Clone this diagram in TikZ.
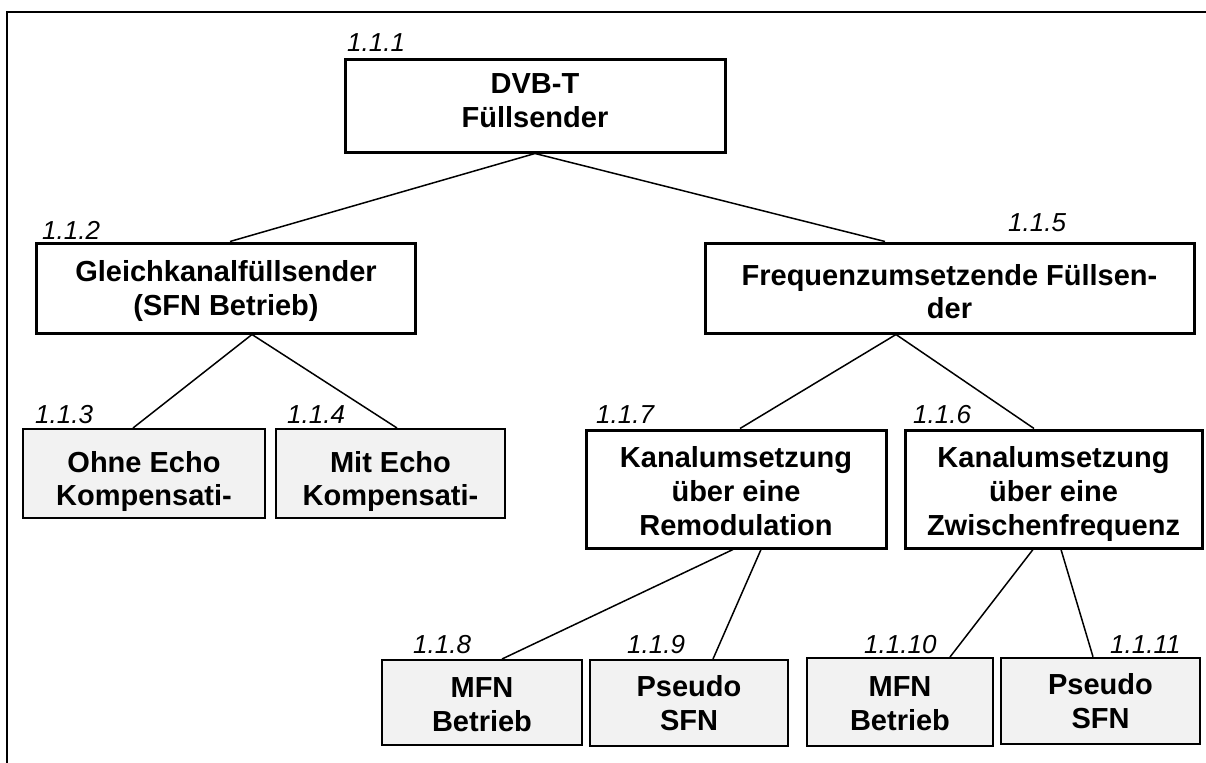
\documentclass[tikz,border=0pt]{standalone}
\usepackage{fontspec}
\setmainfont{Liberation Sans}
\usetikzlibrary{calc}
\definecolor{leafgray}{RGB}{242,242,242}
% #1 = vertical lift, #2 = baselineskip, #3 = lines
\newcommand{\boxlines}[3]{\raisebox{#1}[\height][\depth]{\fontsize{29bp}{#2}\selectfont\begin{tabular}{@{}c@{}}#3\end{tabular}}}
\tikzset{
  boxtext/.style={inner sep=0pt, font=\bfseries},
  mainbox/.style={boxtext, draw=black, line width=3bp, fill=white},
  leafbox/.style={boxtext, draw=black, line width=2bp, fill=leafgray},
  lbl/.style={inner sep=0pt, anchor=base west, font=\itshape\fontsize{26bp}{30bp}\selectfont},
  conn/.style={draw=black, line width=1.5bp},
}
\begin{document}
\begin{tikzpicture}[x=1bp,y=-1bp]
\useasboundingbox (0,0) rectangle (1206,763);
\draw[line width=2bp] (7,12) rectangle (1240,800);

\node[mainbox, minimum width=380bp, minimum height=92bp] (n1) at (535,106) {\boxlines{2.3bp}{34bp}{DVB-T\\Füllsender}};
\node[mainbox, minimum width=378bp, minimum height=90bp] (n2) at (226,288) {\boxlines{-3.2bp}{34bp}{Gleichkanalfüllsender\\(SFN Betrieb)}};
\node[mainbox, minimum width=489bp, minimum height=90bp] (n5) at (949.5,288) {\boxlines{-7bp}{33bp}{Frequenzumsetzende Füllsen-\\der}};
\node[leafbox, minimum width=242bp, minimum height=89bp] (n3) at (144,473.5) {\boxlines{-8.5bp}{33bp}{Ohne Echo\\Kompensati-}};
\node[leafbox, minimum width=229bp, minimum height=89bp] (n4) at (390.5,473.5) {\boxlines{-8.5bp}{33bp}{Mit Echo\\Kompensati-}};
\node[mainbox, minimum width=300bp, minimum height=118bp] (n7) at (736,489) {\boxlines{-6bp}{34bp}{Kanalumsetzung\\über eine\\Remodulation}};
\node[mainbox, minimum width=297bp, minimum height=118bp] (n6) at (1053.5,489) {\boxlines{-6bp}{34bp}{Kanalumsetzung\\über eine\\Zwischenfrequenz}};
\node[leafbox, minimum width=200bp, minimum height=85bp] (n8) at (482,702.5) {\boxlines{-5bp}{34bp}{MFN\\Betrieb}};
\node[leafbox, minimum width=198bp, minimum height=86bp] (n9) at (689,703) {\boxlines{-4bp}{34bp}{Pseudo\\SFN}};
\node[leafbox, minimum width=186bp, minimum height=88bp] (n10) at (900,702) {\boxlines{-5bp}{34bp}{MFN\\Betrieb}};
\node[leafbox, minimum width=199bp, minimum height=86bp, line width=2.5bp] (n11) at (1100.5,701) {\boxlines{-4bp}{34bp}{Pseudo\\SFN}};

\draw[conn] (n1.south) -- ([xshift=4bp]n2.north);
\draw[conn] (n1.south) -- ([xshift=-64.5bp]n5.north);
\draw[conn] ([xshift=26bp]n2.south) -- ([xshift=-11bp]n3.north);
\draw[conn] ([xshift=26bp]n2.south) -- ([xshift=6.5bp]n4.north);
\draw[conn] ([xshift=-53.5bp]n5.south) -- ([xshift=4bp]n7.north);
\draw[conn] ([xshift=-53.5bp]n5.south) -- ([xshift=-19.5bp]n6.north);
\draw[conn] ([xshift=-3bp]n7.south) -- ([xshift=20bp]n8.north);
\draw[conn] ([xshift=25bp]n7.south) -- ([xshift=24bp]n9.north);
\draw[conn] ([xshift=-20.5bp]n6.south) -- ([xshift=50bp]n10.north);
\draw[conn] ([xshift=7.5bp]n6.south) -- ([xshift=-7.5bp]n11.north);

\node[lbl] (l1) at (347,52) {1.1.1};
\node[lbl] (l2) at (42,239) {1.1.2};
\node[lbl] (l5) at (1008,231) {1.1.5};
\node[lbl] (l3) at (35,423) {1.1.3};
\node[lbl] (l4) at (287,423) {1.1.4};
\node[lbl] (l7) at (596,423) {1.1.7};
\node[lbl] (l6) at (913,423) {1.1.6};
\node[lbl] (l8) at (413,653) {1.1.8};
\node[lbl] (l9) at (627,653) {1.1.9};
\node[lbl] (l10) at (864,653) {1.1.10};
\node[lbl] (l11) at (1110,653) {1.1.11};
\end{tikzpicture}
\end{document}
